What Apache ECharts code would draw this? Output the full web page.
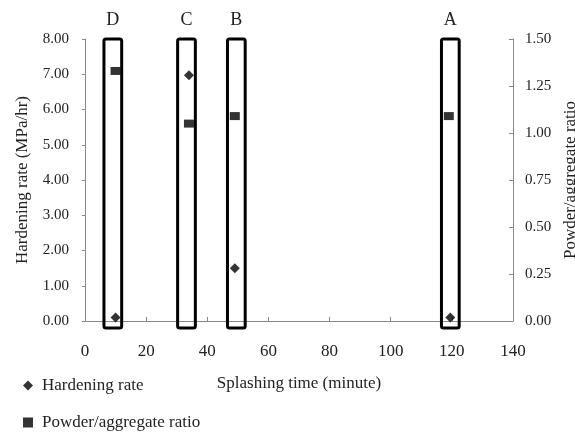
<!DOCTYPE html>
<html>
<head>
<meta charset="utf-8">
<script src="https://cdn.jsdelivr.net/npm/echarts@6/dist/echarts.min.js"></script>
<style>
  html, body { margin: 0; padding: 0; background: #fff; }
  #main { width: 575px; height: 435px; }
</style>
</head>
<body>
<div id="main"></div>
<script>
// splashing time (minute)
const hardeningTime = [10, 34, 49, 119.5]
const hardeningRate = [0.1, 6.97, 1.5, 0.1]
const ratioTime = [10, 34, 49, 119]
const ratioValue = [1.33, 1.05, 1.09, 1.09]
// highlighted groups
const groupNames = ['D', 'C', 'B', 'A']
const groupCenter = [9.1, 33.2, 49.5, 119.5]
const groupHalfWidth = 2.9
const groupBottom = -0.2
const groupTop = 8

const serif = 'Liberation Serif'
const chart = echarts.init(document.getElementById('main'))

const option = {
  animation: false,
  textStyle: { fontFamily: serif },
  grid: { left: 85, right: 62, top: 39, bottom: 114, outerBoundsMode: 'none' },
  legend: {
    orient: 'vertical',
    left: 23,
    top: 377,
    padding: 0,
    height: 58,
    itemGap: 20,
    itemWidth: 10,
    itemHeight: 10,
    textStyle: { fontFamily: serif, fontSize: 17, color: '#222', padding: [0, 0, 0, 4] },
    data: [
      { name: 'Hardening rate', icon: 'diamond' },
      { name: 'Powder/aggregate ratio', icon: 'rect' }
    ]
  },
  xAxis: {
    type: 'value',
    min: 0,
    max: 140,
    interval: 20,
    name: 'Splashing time (minute)',
    nameLocation: 'middle',
    nameGap: 54,
    nameTextStyle: { fontFamily: serif, fontSize: 17, color: '#222' },
    axisLine: { lineStyle: { color: '#888' } },
    axisTick: { inside: true, length: 4, lineStyle: { color: '#888' } },
    axisLabel: { fontFamily: serif, fontSize: 17, color: '#222', margin: 22 },
    splitLine: { show: false }
  },
  yAxis: [
    {
      type: 'value',
      min: 0,
      max: 8,
      interval: 1,
      name: 'Hardening rate (MPa/hr)',
      nameLocation: 'middle',
      nameGap: 54,
      nameTextStyle: { fontFamily: serif, fontSize: 17, color: '#222' },
      axisLine: { show: true, lineStyle: { color: '#888' } },
      axisTick: { show: true, length: 3, lineStyle: { color: '#888' } },
      axisLabel: { fontFamily: serif, fontSize: 15, color: '#222', margin: 16, formatter: v => v.toFixed(2) },
      splitLine: { show: false }
    },
    {
      type: 'value',
      min: 0,
      max: 1.5,
      interval: 0.25,
      position: 'right',
      name: 'Powder/aggregate ratio',
      nameLocation: 'middle',
      nameGap: 45,
      nameRotate: 90,
      nameTextStyle: { fontFamily: serif, fontSize: 17, color: '#222' },
      axisLine: { show: true, lineStyle: { color: '#888' } },
      axisTick: { show: true, inside: true, length: 4, lineStyle: { color: '#888' } },
      axisLabel: { fontFamily: serif, fontSize: 15, color: '#222', margin: 12, formatter: v => v.toFixed(2) },
      splitLine: { show: false }
    }
  ],
  series: [
    {
      type: 'custom',
      silent: true,
      clip: false,
      z: 1,
      data: groupCenter.map((c, i) => [c, groupNames[i]]),
      renderItem: function (params, api) {
        const c = api.value(0)
        const p1 = api.coord([c - groupHalfWidth, groupTop])
        const p2 = api.coord([c + groupHalfWidth, groupBottom])
        return {
          type: 'group',
          children: [
            {
              type: 'rect',
              shape: { x: p1[0], y: p1[1], width: p2[0] - p1[0], height: p2[1] - p1[1], r: 2 },
              style: { fill: 'none', stroke: '#000', lineWidth: 3 }
            },
            {
              type: 'text',
              style: {
                text: groupNames[params.dataIndex],
                x: (p1[0] + p2[0]) / 2,
                y: p1[1] - 10,
                align: 'center',
                verticalAlign: 'bottom',
                font: '18px "Liberation Serif"',
                fill: '#222'
              }
            }
          ]
        }
      }
    },
    {
      name: 'Hardening rate',
      type: 'scatter',
      symbol: 'diamond',
      symbolSize: 10,
      z: 3,
      itemStyle: { color: '#000' },
      data: hardeningTime.map((t, i) => [t, hardeningRate[i]])
    },
    {
      name: 'Powder/aggregate ratio',
      type: 'scatter',
      yAxisIndex: 1,
      symbol: 'rect',
      symbolSize: [10, 8],
      z: 3,
      itemStyle: { color: '#000' },
      data: ratioTime.map((t, i) => [t, ratioValue[i]])
    }
  ]
}

chart.setOption(option)
</script>
</body>
</html>
